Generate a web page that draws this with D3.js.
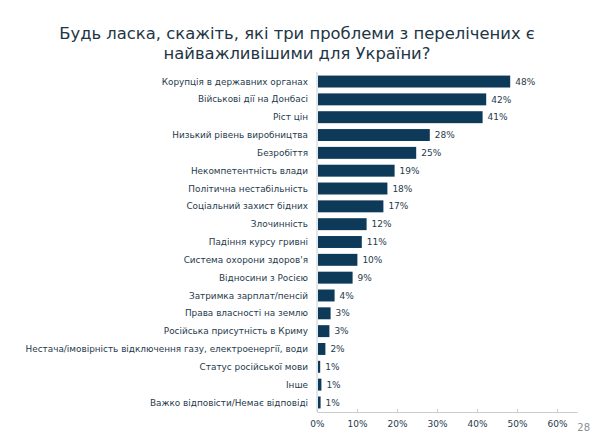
<!DOCTYPE html>
<html><head><meta charset="utf-8">
<script src="https://cdn.jsdelivr.net/npm/d3@7"></script>
<style>body{margin:0;background:#fff;}svg{display:block;}</style>
</head><body>
<script>
const categories = [
  "Корупція в державних органах","Військові дії на Донбасі","Ріст цін","Низький рівень виробництва",
  "Безробіття","Некомпетентність влади","Політична нестабільність","Соціальний захист бідних",
  "Злочинність","Падіння курсу гривні","Система охорони здоров'я","Відносини з Росією",
  "Затримка зарплат/пенсій","Права власності на землю","Російська присутність в Криму",
  "Нестача/імовірність відключення газу, електроенергії, води","Статус російської мови","Інше",
  "Важко відповісти/Немає відповіді"
];
const values = [48.3,42.3,41.4,28.2,24.8,19.4,17.6,16.6,12.4,11.2,10.1,8.9,4.4,3.4,3.1,2.1,0.8,1.1,0.9];
const valueLabels = ["48%","42%","41%","28%","25%","19%","18%","17%","12%","11%","10%","9%","4%","3%","3%","2%","1%","1%","1%"];
const tickValues = [0,10,20,30,40,50,60];
const titleLines = ["Будь ласка, скажіть, які три проблеми з перелічених є","найважливішими для України?"];

const W=597,H=437;
const svg=d3.select("body").append("svg").attr("width",W).attr("height",H);
const font="'DejaVu Sans', Verdana, sans-serif";
const textCol="#1f3a4c", barCol="#0e3a5a", axisCol="#c8cdd2";

svg.selectAll("text.title").data(titleLines).join("text").attr("class","title")
  .attr("x",297).attr("y",(d,i)=>39+i*19.5).attr("text-anchor","middle")
  .attr("font-family",font).attr("font-size",16.4).attr("fill","#1e3645").text(d=>d);

const x=d3.scaleLinear().domain([0,65]).range([317,577]);
const y=d3.scaleBand().domain(categories).range([72,412]).paddingInner(0.33).paddingOuter(0.2);

const g=svg.append("g");
g.append("line").attr("x1",x(0)).attr("x2",x(0)).attr("y1",72).attr("y2",412).attr("stroke",axisCol);
const ax=svg.append("g").attr("transform","translate(0,412)")
  .call(d3.axisBottom(x).tickValues(tickValues).tickFormat(d=>d+"%").tickSizeInner(-3).tickSizeOuter(0).tickPadding(9));
ax.select(".domain").attr("stroke",axisCol);
ax.selectAll(".tick line").attr("stroke",axisCol);
ax.selectAll("text").attr("font-family",font).attr("font-size",9).attr("fill",textCol);

g.selectAll("rect").data(values).join("rect")
  .attr("x",x(0)+1).attr("y",(d,i)=>y(categories[i]))
  .attr("width",d=>x(d)-x(0)-1).attr("height",y.bandwidth()).attr("fill",barCol);

g.selectAll("text.cat").data(categories).join("text").attr("class","cat")
  .attr("x",308).attr("y",d=>y(d)+y.bandwidth()/2).attr("dy","0.35em").attr("text-anchor","end")
  .attr("font-family",font).attr("font-size",8.9).attr("fill",textCol).text(d=>d);

g.selectAll("text.val").data(values).join("text").attr("class","val")
  .attr("x",d=>x(d)+5).attr("y",(d,i)=>y(categories[i])+y.bandwidth()/2).attr("dy","0.35em")
  .attr("font-family",font).attr("font-size",9).attr("fill",textCol).text((d,i)=>valueLabels[i]);

svg.append("text").attr("x",590).attr("y",431).attr("text-anchor","end")
  .attr("font-family",font).attr("font-size",10).attr("fill","#8a8f94").text("28");
</script>
</body></html>
